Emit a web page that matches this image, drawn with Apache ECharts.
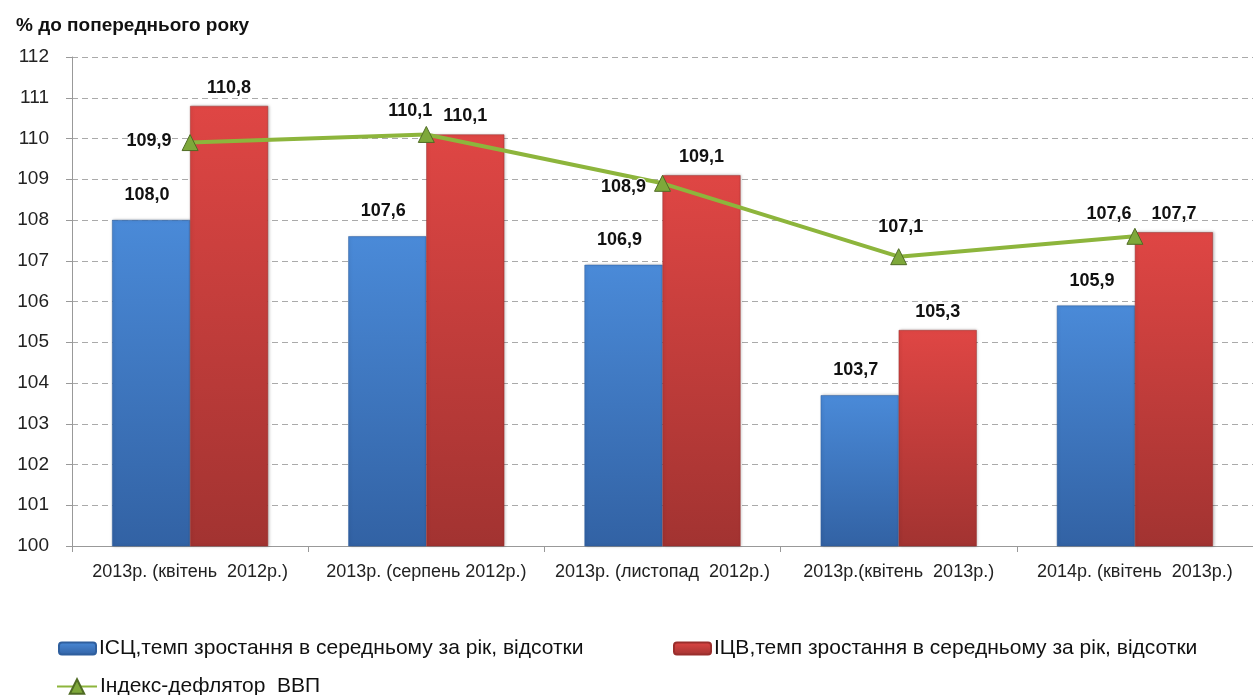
<!DOCTYPE html>
<html lang="uk">
<head>
    <meta charset="UTF-8">
    <title>Chart</title>
    <script src="https://cdn.jsdelivr.net/npm/echarts@6.0.0/dist/echarts.min.js"></script>
    <style>
        html, body { margin: 0; padding: 0; background: #fff; }
    </style>
</head>
<body>
<div id="chart" style="width:1253px;height:695px;"></div>

<script type="text/javascript">
    // data
    var categories = ['2013р. (квітень  2012р.)', '2013р. (серпень 2012р.)', '2013р. (листопад  2012р.)', '2013р.(квітень  2013р.)', '2014р. (квітень  2013р.)'];
    var cpi = [108.0, 107.6, 106.9, 103.7, 105.9];
    var ppi = [110.8, 110.1, 109.1, 105.3, 107.7];
    var deflator = [109.9, 110.1, 108.9, 107.1, 107.6];
    var yTicks = [100, 101, 102, 103, 104, 105, 106, 107, 108, 109, 110, 111, 112];

    var seriesNames = [
        'ІСЦ,темп зростання в середньому за рік, відсотки',
        'ІЦВ,темп зростання в середньому за рік, відсотки',
        'Індекс-дефлятор  ВВП'
    ];

    var fmt = function (p) { return p.value.toFixed(1).replace('.', ','); };
    var labelStyle = {
        show: true,
        fontFamily: 'Liberation Sans, Arial',
        fontWeight: 'bold',
        fontSize: 18,
        color: '#111',
        textBorderColor: '#fff',
        textBorderWidth: 2,
        formatter: fmt
    };

    // label placement for the line points (as in the picture)
    var lineLabelPos = [
        { position: 'left', distance: 10, offset: [0, -2] },
        { position: 'top', distance: 6, offset: [-16, 0] },
        { position: 'left', distance: 8, offset: [0, 4] },
        { position: 'top', distance: 12, offset: [2, 0] },
        { position: 'top', distance: 5, offset: [-26, 0] }
    ];

    var legendText = { fontSize: 21, color: '#111', padding: [0, 0, 0, -2], fontFamily: 'Liberation Sans Narrow, Liberation Sans, Arial' };

    var chart = echarts.init(document.getElementById('chart'));
    var option = {
        animation: false,
        textStyle: { fontFamily: 'Liberation Sans, Arial' },
        title: {
            text: '% до попереднього року',
            left: 11,
            top: 11,
            textStyle: { fontSize: 19, fontWeight: 'bold', color: '#111' }
        },
        legend: [
            {
                data: [seriesNames[0]], left: 53, top: 633,
                itemWidth: 37, itemHeight: 12, itemGap: 0,
                textStyle: legendText
            },
            {
                data: [seriesNames[1]], left: 668, top: 633,
                itemWidth: 37, itemHeight: 12, itemGap: 0,
                textStyle: legendText
            },
            {
                data: [seriesNames[2]], left: 51, top: 671,
                itemWidth: 40, itemHeight: 18, itemGap: 0,
                textStyle: legendText
            }
        ],
        grid: { left: 72, right: 0, top: 57, bottom: 149, containLabel: false },
        xAxis: {
            type: 'category',
            data: categories,
            axisLine: { lineStyle: { color: '#999' } },
            axisTick: { show: true, alignWithLabel: false, length: 6, lineStyle: { color: '#999' } },
            axisLabel: { fontSize: 18, color: '#222', margin: 17, interval: 0 }
        },
        yAxis: {
            type: 'value',
            min: yTicks[0],
            max: yTicks[yTicks.length - 1],
            interval: 1,
            axisLine: { show: true, lineStyle: { color: '#999' } },
            axisTick: { show: true, length: 6, lineStyle: { color: '#999' } },
            axisLabel: { fontSize: 19, color: '#222', margin: 23 },
            splitLine: { lineStyle: { color: '#aaa', type: [6, 4] } }
        },
        series: [
            {
                name: seriesNames[0],
                type: 'bar',
                data: cpi,
                barWidth: 78,
                barGap: '0%',
                itemStyle: {
                    color: new echarts.graphic.LinearGradient(0, 0, 0, 1, [
                        { offset: 0, color: '#4a8ad8' },
                        { offset: 1, color: '#3262a4' }
                    ]),
                    borderColor: '#2f5f9e',
                    borderWidth: 0.5,
                    shadowColor: 'rgba(0,0,0,0.25)',
                    shadowBlur: 3,
                    shadowOffsetX: 1
                },
                label: Object.assign({ position: 'top', distance: 16, offset: [-4, 0] }, labelStyle)
            },
            {
                name: seriesNames[1],
                type: 'bar',
                data: ppi,
                barWidth: 78,
                barGap: '0%',
                itemStyle: {
                    color: new echarts.graphic.LinearGradient(0, 0, 0, 1, [
                        { offset: 0, color: '#df4644' },
                        { offset: 1, color: '#a23331' }
                    ]),
                    borderColor: '#9a2e2c',
                    borderWidth: 0.5,
                    shadowColor: 'rgba(0,0,0,0.25)',
                    shadowBlur: 3,
                    shadowOffsetX: 1
                },
                label: Object.assign({ position: 'top', distance: 9 }, labelStyle)
            },
            {
                name: seriesNames[2],
                type: 'line',
                data: deflator.map(function (v, i) {
                    return { value: v, label: lineLabelPos[i] };
                }),
                symbol: 'triangle',
                symbolSize: 16,
                lineStyle: { color: '#8db53c', width: 4 },
                itemStyle: { color: '#7ea83a', borderColor: '#4f6b24', borderWidth: 1 },
                label: labelStyle,
                z: 5
            }
        ]
    };
    chart.setOption(option);
</script>
</body>
</html>
